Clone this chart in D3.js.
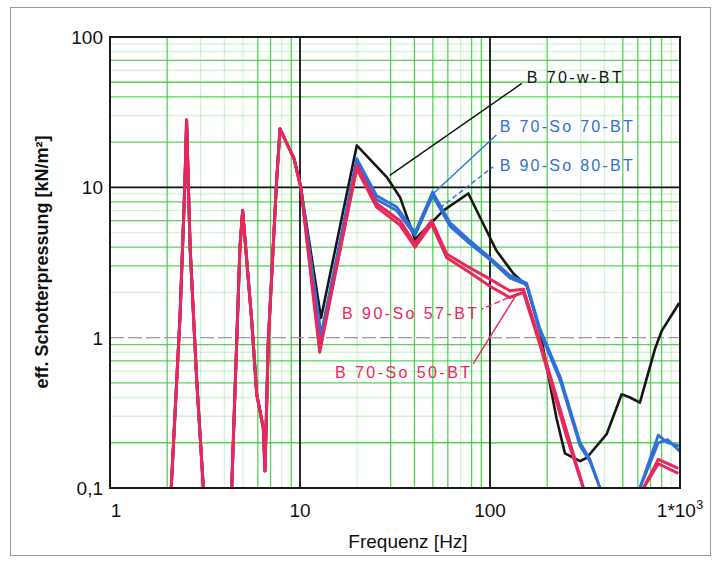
<!DOCTYPE html>
<html lang="de">
<head>
<meta charset="utf-8">
<title>eff. Schotterpressung</title>
<script src="https://d3js.org/d3.v7.min.js"></script>
<style>
  body { margin: 0; background: #fff; }
  text { font-family: "Liberation Sans", Arial, sans-serif; }
</style>
</head>
<body>
<script>
// shared low-frequency part (all curves coincide below ~10 Hz)
const lowHz  = [2.1, 2.34, 2.48, 2.53, 2.64, 2.86, 3.1, 3.7, 4.37, 4.83, 4.99, 5.57, 5.92, 6.41, 6.54, 6.81, 7.53, 7.85, 9.3, 10.1];
const lowVal = [0.1, 1.45, 11, 28, 4.0, 0.52, 0.1, 0.03, 0.1, 4.0, 7.0, 1.3, 0.42, 0.25, 0.13, 0.95, 11, 24.5, 15.5, 10];

// B 70-w-BT
const blackHz  = [12.9, 19.9, 28.6, 33.6, 40.3, 56.8, 76.9, 108, 133, 156, 183, 224, 248, 298, 323, 411, 493, 546, 615, 738, 801, 990];
const blackVal = [1.35, 19, 11.7, 8.6, 4.5, 7.0, 9.1, 3.8, 2.66, 2.22, 1.11, 0.29, 0.17, 0.151, 0.159, 0.228, 0.42, 0.40, 0.37, 0.84, 1.11, 1.7];

// B 70-So 70-BT and B 90-So 80-BT
const blueHz    = [12.9, 19.9, 25.3, 32.3, 40.3, 49.9, 61.7, 78.6, 100, 127, 156, 183, 234, 298, 336, 379, 430, 590, 615, 769, 860, 1000];
const blue70Val = [1.05, 15.5, 8.8, 7.4, 5.0, 9.3, 5.8, 4.4, 3.4, 2.6, 2.3, 1.15, 0.55, 0.2, 0.155, 0.1, 0.05, 0.05, 0.1, 0.225, 0.2, 0.19];
const blue80Val = [1.0, 15, 8.3, 7.0, 4.8, 8.8, 5.5, 4.2, 3.3, 2.5, 2.25, 1.1, 0.52, 0.19, 0.15, 0.1, 0.05, 0.05, 0.1, 0.2, 0.21, 0.175];

// B 90-So 57-BT and B 70-So 50-BT
const redHz    = [12.7, 19.9, 25.3, 33.6, 40.3, 49.3, 59.2, 75.4, 100, 127, 150, 183, 253, 310, 360, 600, 642, 769, 980];
const red57Val = [0.8, 14, 7.8, 6.0, 4.2, 6.0, 3.6, 3.0, 2.45, 2.05, 2.1, 0.95, 0.24, 0.1, 0.05, 0.05, 0.1, 0.155, 0.135];
const red50Val = [0.85, 13.3, 7.4, 5.6, 4.0, 5.7, 3.4, 2.8, 2.2, 1.85, 2.0, 0.9, 0.22, 0.1, 0.05, 0.05, 0.1, 0.145, 0.125];

const xTicks = [1, 10, 100, 1000];
const xTickLabels = ["1", "10", "100", "1*10"];
const yTicks = [0.1, 1, 10, 100];
const yTickLabels = ["0,1", "1", "10", "100"];

// labels with leader lines
const labelNames = ["B 70-w-BT", "B 70-So 70-BT", "B 90-So 80-BT", "B 90-So 57-BT", "B 70-So 50-BT"];
const labelFrom  = [[29.7, 12.0], [50.3, 9.1], [54.5, 7.3], [138, 1.94], [138, 1.94]];
const labelTo    = [[147, 49.1], [108, 22.3], [103.8, 13.7], [90.4, 1.55], [81.6, 0.67]];
const labelAt    = [[156, 49.4], [112.6, 23.3], [112.6, 12.8], [85.5, 1.34], [78.5, 0.54]];

const W = 712, H = 563;
const svg = d3.select("body").append("svg").attr("width", W).attr("height", H);

svg.append("rect").attr("x", 10.5).attr("y", 7.5).attr("width", 700).attr("height", 548)
  .attr("fill", "none").attr("stroke", "#9a9a9a").attr("stroke-width", 1);

const x = d3.scaleLog().domain([1, 1000]).range([110, 680]);
const y = d3.scaleLog().domain([0.1, 100]).range([488, 37]);

svg.append("defs").append("clipPath").attr("id", "plot")
  .append("rect").attr("x", 110).attr("y", 37).attr("width", 570).attr("height", 451);

// green log grid (scan shows some lines strong, others faint)
const strongX = [2, 6, 7, 9, 30, 40, 50, 60, 80, 90, 200, 500, 600, 700, 800];
const strongY = [0.2, 0.5, 0.7, 0.9, 3, 4, 6, 8, 20, 40, 50, 70];
function minors(from) {
  const out = [];
  for (let d = from; d < from * 1000; d *= 10)
    for (let k = 2; k <= 9; k++) out.push(+(d * k).toPrecision(3));
  return out;
}
const near = (arr, v) => arr.some(a => Math.abs(a - v) / v < 1e-6);
const grid = svg.append("g");
grid.selectAll("line.gx").data(minors(1)).enter().append("line")
  .attr("x1", d => x(d)).attr("x2", d => x(d)).attr("y1", 37).attr("y2", 488)
  .attr("stroke", "#2ec82e").attr("stroke-width", 1.3)
  .attr("opacity", d => near(strongX, d) ? 0.8 : 0.2);
grid.selectAll("line.gy").data(minors(0.1)).enter().append("line")
  .attr("y1", d => y(d)).attr("y2", d => y(d)).attr("x1", 110).attr("x2", 680)
  .attr("stroke", "#2ec82e").attr("stroke-width", 1.3)
  .attr("opacity", d => near(strongY, d) ? 0.8 : 0.2);

// decade lines
grid.selectAll("line.dx").data([10, 100]).enter().append("line")
  .attr("x1", d => x(d)).attr("x2", d => x(d)).attr("y1", 37).attr("y2", 488)
  .attr("stroke", "#111").attr("stroke-width", 1.8);
grid.append("line").attr("x1", 110).attr("x2", 680).attr("y1", y(10)).attr("y2", y(10))
  .attr("stroke", "#111").attr("stroke-width", 1.8);
grid.append("line").attr("x1", 110).attr("x2", 680).attr("y1", y(1)).attr("y2", y(1))
  .attr("stroke", "#999").attr("stroke-width", 1.2).attr("stroke-dasharray", "14 4");

// curves
const line = d3.line().x(d => x(d[0])).y(d => y(d[1]));
function pts(hz, vals) {
  return lowHz.map((f, i) => [f, lowVal[i]]).concat(hz.map((f, i) => [f, vals[i]]));
}
const series = [
  { p: pts(blackHz, blackVal), c: "#161616", w: 2.6 },
  { p: pts(blueHz, blue80Val), c: "#2f6fd8", w: 2.8 },
  { p: pts(blueHz, blue70Val), c: "#2f6fd8", w: 2.8 },
  { p: pts(redHz, red50Val), c: "#e8285c", w: 3 },
  { p: pts(redHz, red57Val), c: "#e8285c", w: 3 }
];
const curves = svg.append("g").attr("clip-path", "url(#plot)");
curves.selectAll("path").data(series).enter().append("path")
  .attr("d", d => line(d.p)).attr("fill", "none")
  .attr("stroke", d => d.c).attr("stroke-width", d => d.w)
  .attr("stroke-linejoin", "round");

// frame
svg.append("rect").attr("x", 110).attr("y", 37).attr("width", 570).attr("height", 451)
  .attr("fill", "none").attr("stroke", "#1a1a1a").attr("stroke-width", 2);

// annotations
const labelColors = ["#111", "#2f6fd8", "#2f6fd8", "#e8285c", "#e8285c"];
const labelDash = [null, null, "5 3", "6 3", null];
const labelAnchor = ["start", "start", "start", "end", "end"];
const labelLen = [95, 133, 133, 135, 135];
labelNames.forEach((t, i) => {
  svg.append("line")
    .attr("x1", x(labelFrom[i][0])).attr("y1", y(labelFrom[i][1]))
    .attr("x2", x(labelTo[i][0])).attr("y2", y(labelTo[i][1]))
    .attr("stroke", labelColors[i]).attr("stroke-width", 1.4)
    .attr("stroke-dasharray", labelDash[i]);
  svg.append("text").attr("x", x(labelAt[i][0])).attr("y", y(labelAt[i][1]))
    .attr("text-anchor", labelAnchor[i]).attr("font-size", 16)
    .attr("textLength", labelLen[i]).attr("lengthAdjust", "spacing")
    .attr("fill", labelColors[i]).text(t);
});

// tick labels
svg.selectAll("text.xt").data(xTicks).enter().append("text")
  .attr("x", d => d === 1 ? x(d) + 6 : x(d)).attr("y", 517).attr("text-anchor", "middle")
  .attr("font-size", 19).attr("fill", "#111")
  .text((d, i) => xTickLabels[i])
  .filter(d => d === 1000).append("tspan").attr("dy", -8).attr("font-size", 13).text("3");
svg.selectAll("text.yt").data(yTicks).enter().append("text")
  .attr("x", 103).attr("y", d => y(d) + 7).attr("text-anchor", "end")
  .attr("font-size", 19).attr("fill", "#111")
  .text((d, i) => yTickLabels[i]);

// axis titles
svg.append("text").attr("x", 408).attr("y", 548).attr("text-anchor", "middle")
  .attr("font-size", 19).attr("fill", "#111").text("Frequenz [Hz]");
svg.append("text").attr("transform", "translate(48,262) rotate(-90)")
  .attr("text-anchor", "middle").attr("font-size", 18).attr("font-weight", "bold")
  .attr("fill", "#111").text("eff. Schotterpressung [kN/m²]");
</script>
</body>
</html>
